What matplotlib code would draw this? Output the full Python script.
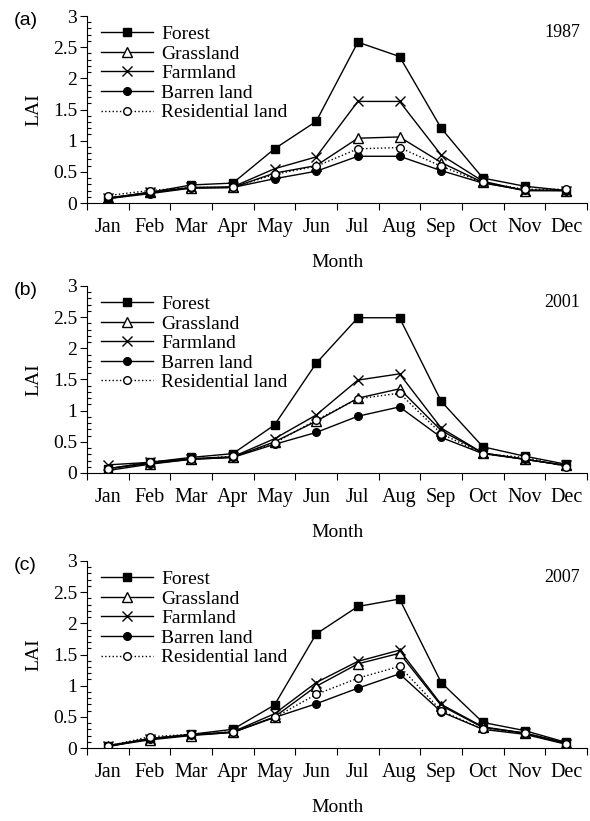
import matplotlib.pyplot as plt
import numpy as np
from matplotlib.ticker import MultipleLocator

months = ["Jan", "Feb", "Mar", "Apr", "May", "Jun",
          "Jul", "Aug", "Sep", "Oct", "Nov", "Dec"]
years = ["1987", "2001", "2007"]
panels = ["(a)", "(b)", "(c)"]
classes = ["Forest", "Grassland", "Farmland", "Barren land", "Residential land"]

# LAI values, one list per class per year
forest_1987 = [0.07, 0.17, 0.29, 0.32, 0.87, 1.31, 2.58, 2.35, 1.20, 0.40, 0.27, 0.20]
grass_1987 = [0.08, 0.17, 0.24, 0.25, 0.48, 0.60, 1.04, 1.06, 0.65, 0.33, 0.20, 0.20]
farm_1987 = [0.08, 0.17, 0.25, 0.26, 0.55, 0.74, 1.63, 1.63, 0.77, 0.35, 0.20, 0.20]
barren_1987 = [0.07, 0.15, 0.24, 0.25, 0.39, 0.51, 0.75, 0.75, 0.52, 0.32, 0.21, 0.20]
resid_1987 = [0.12, 0.20, 0.25, 0.25, 0.46, 0.59, 0.87, 0.89, 0.59, 0.33, 0.22, 0.22]

forest_2001 = [0.07, 0.17, 0.25, 0.31, 0.77, 1.76, 2.49, 2.49, 1.15, 0.42, 0.27, 0.14]
grass_2001 = [0.04, 0.14, 0.22, 0.25, 0.50, 0.83, 1.20, 1.35, 0.68, 0.32, 0.22, 0.12]
farm_2001 = [0.13, 0.17, 0.23, 0.26, 0.55, 0.93, 1.49, 1.59, 0.72, 0.32, 0.22, 0.12]
barren_2001 = [0.07, 0.15, 0.22, 0.25, 0.46, 0.65, 0.91, 1.06, 0.57, 0.31, 0.22, 0.12]
resid_2001 = [0.06, 0.18, 0.22, 0.27, 0.48, 0.85, 1.19, 1.28, 0.63, 0.31, 0.25, 0.10]

forest_2007 = [0.04, 0.15, 0.22, 0.30, 0.69, 1.83, 2.27, 2.39, 1.05, 0.41, 0.28, 0.09]
grass_2007 = [0.03, 0.13, 0.20, 0.25, 0.50, 0.99, 1.35, 1.52, 0.68, 0.33, 0.24, 0.08]
farm_2007 = [0.03, 0.15, 0.21, 0.26, 0.55, 1.05, 1.39, 1.57, 0.70, 0.34, 0.24, 0.07]
barren_2007 = [0.02, 0.15, 0.21, 0.25, 0.49, 0.71, 0.96, 1.19, 0.58, 0.30, 0.22, 0.06]
resid_2007 = [0.03, 0.18, 0.22, 0.26, 0.49, 0.86, 1.12, 1.31, 0.60, 0.30, 0.24, 0.07]

data = [
    [forest_1987, grass_1987, farm_1987, barren_1987, resid_1987],
    [forest_2001, grass_2001, farm_2001, barren_2001, resid_2001],
    [forest_2007, grass_2007, farm_2007, barren_2007, resid_2007],
]

styles = [
    dict(marker="s", ms=6, mfc="black", ls="-"),
    dict(marker="^", ms=6.5, mfc="white", ls="-"),
    dict(marker="x", ms=7, mfc="black", ls="-", mew=1.0),
    dict(marker="o", ms=5.5, mfc="black", ls="-"),
    dict(marker="o", ms=5.5, mfc="white", ls=":"),
]

plt.rcParams["font.family"] = "Liberation Serif"

fig = plt.figure(figsize=(5.9, 8.21), dpi=100)
bottoms = [0.7527, 0.4239, 0.0889]
x = np.arange(len(months))

for k in range(3):
    ax = fig.add_axes([0.1475, bottoms[k], 0.8475, 0.2278])
    for name, vals, st in zip(classes, data[k], styles):
        ax.plot(x, vals, color="black", lw=1.0, mec="black", label=name, **st)

    ax.set_xlim(-0.5, 11.5)
    ax.set_ylim(0, 3)
    ax.set_xticks(x)
    ax.set_xticklabels(months)
    ax.set_xticks(np.arange(-0.5, 12, 1), minor=True)
    ax.tick_params(axis="x", which="major", length=0, pad=11, labelsize=14.5)
    ax.tick_params(axis="x", which="minor", length=5, direction="out", width=0.8)
    ax.yaxis.set_minor_locator(MultipleLocator(0.1))
    ax.set_yticks([0, 0.5, 1, 1.5, 2, 2.5, 3])
    ax.set_yticklabels(["0", "0.5", "1", "1.5", "2", "2.5", "3"])
    ax.tick_params(axis="y", which="major", length=5, direction="out", width=0.8, labelsize=14, pad=2)
    ax.tick_params(axis="y", which="minor", length=3, direction="in", width=0.8)
    ax.spines["top"].set_visible(False)
    ax.spines["right"].set_visible(False)
    ax.spines["left"].set_linewidth(0.8)
    ax.spines["bottom"].set_linewidth(0.8)

    ax.set_xlabel("Month", fontsize=14, labelpad=12)
    ax.set_ylabel("LAI", fontsize=14, labelpad=8)
    ax.text(0.986, 0.91, years[k], transform=ax.transAxes, ha="right", va="center", fontsize=13)

    ax.legend(loc="upper left", bbox_to_anchor=(0.02, 0.97), frameon=False, fontsize=14,
              handlelength=2.7, handletextpad=0.4, labelspacing=0.1, borderaxespad=0,
              borderpad=0.2)

    fig.text(0.024, bottoms[k] + 0.2278 - 0.005, panels[k], fontsize=14,
             family="Liberation Sans", ha="left", va="center")

fig.savefig("out.png", dpi=100)
